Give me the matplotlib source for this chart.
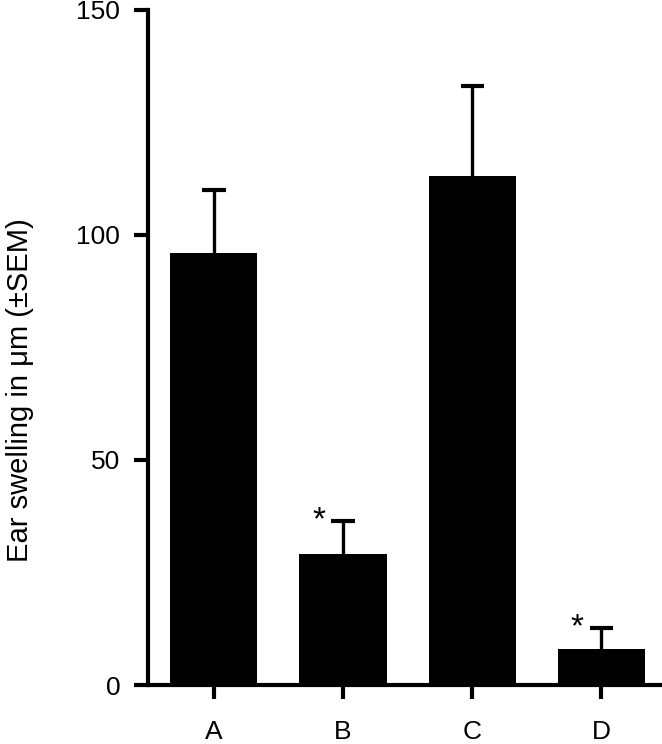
import matplotlib
matplotlib.use('Agg')
import matplotlib.pyplot as plt
import numpy as np

# Data
groups = ['A', 'B', 'C', 'D']
means = [96, 29, 113, 8]
sem = [14, 7.5, 20, 4.7]
significant = [False, True, False, True]

plt.rcParams['font.family'] = ['Liberation Sans', 'DejaVu Sans']
plt.rcParams['font.size'] = 19

fig = plt.figure(figsize=(6.62, 7.44), dpi=100)
ax = fig.add_axes([0.2236, 0.0793, 0.7764, 0.9073])

x = np.arange(len(groups))
tops = np.array(means) + np.array(sem)
ax.bar(x, means, width=0.675, color='black', zorder=2)
# upper error bars only, no cap at the bar top
ax.vlines(x, means, tops, color='black', linewidth=2.4, zorder=1)
ax.hlines(tops, x - 0.09, x + 0.09, color='black', linewidth=3, zorder=1)

for xi, t, sig in zip(x, tops, significant):
    if sig:
        ax.text(xi - 0.19, t - 3.5, '*', ha='center', va='bottom', fontsize=24)

ax.set_xlim(-0.51, 3.47)
ax.set_ylim(0, 150)
ax.set_yticks([0, 50, 100, 150])
ax.set_xticks(x)
ax.set_xticklabels(groups)
ax.set_ylabel('Ear swelling in \u03bcm (\u00b1SEM)', fontsize=21)
ax.yaxis.set_label_coords(-0.222, 0.437)

for side in ['top', 'right']:
    ax.spines[side].set_visible(False)
for side in ['left', 'bottom']:
    ax.spines[side].set_linewidth(3)
ax.tick_params(axis='both', width=3, length=10)
ax.tick_params(axis='y', pad=10)
ax.tick_params(axis='x', pad=15)

fig.savefig('out.png', dpi=100)
